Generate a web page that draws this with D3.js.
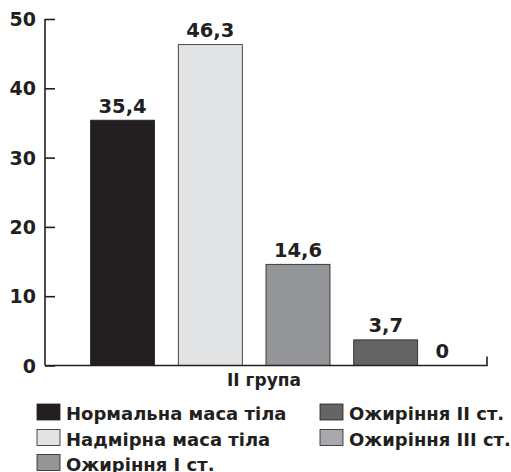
<!DOCTYPE html>
<html>
<head>
<meta charset="utf-8">
<script src="https://cdn.jsdelivr.net/npm/d3@7"></script>
<style>
  body { margin: 0; background: #fff; }
  text { font-family: "DejaVu Sans", sans-serif; font-weight: bold; fill: #231f20; }
</style>
</head>
<body>
<svg id="chart"></svg>
<script>
// data
const categories = ["Нормальна маса тіла", "Надмірна маса тіла", "Ожиріння I ст.", "Ожиріння II ст.", "Ожиріння III ст."];
const values = [35.4, 46.3, 14.6, 3.7, 0];
const valueLabels = ["35,4", "46,3", "14,6", "3,7", "0"];
const colors = ["#231f20", "#e2e3e4", "#939598", "#636466", "#a7a9ac"];
const yTicks = [0, 10, 20, 30, 40, 50];
const groupLabel = "II група";

const width = 511, height = 472;

const svg = d3.select("#chart")
    .attr("width", width)
    .attr("height", height);

const x = d3.scaleBand()
    .domain(categories)
    .range([45, 551])
    .paddingInner(0.27)
    .paddingOuter(0.52);

const y = d3.scaleLinear()
    .domain([0, 50])
    .range([365.5, 19]);

// y axis (ticks point inward)
const yAxis = svg.append("g")
    .attr("transform", "translate(45,0)")
    .call(d3.axisRight(y).tickValues(yTicks).tickSize(10).tickFormat(""));
yAxis.select(".domain").remove();
yAxis.selectAll("line").attr("stroke", "#231f20").attr("stroke-width", 1.6);

svg.append("line")
    .attr("x1", 45).attr("x2", 45)
    .attr("y1", y(50)).attr("y2", y(0))
    .attr("stroke", "#231f20").attr("stroke-width", 1.6);

svg.selectAll(".ylab")
    .data(yTicks)
    .join("text")
    .attr("class", "ylab")
    .attr("x", 36)
    .attr("y", d => y(d) + 7)
    .attr("text-anchor", "end")
    .style("font-size", "19px")
    .text(d => d);

// bars
svg.selectAll(".bar")
    .data(values)
    .join("rect")
    .attr("class", "bar")
    .attr("x", (d, i) => x(categories[i]))
    .attr("width", x.bandwidth())
    .attr("y", d => y(d))
    .attr("height", d => y(0) - y(d))
    .attr("fill", (d, i) => colors[i])
    .attr("stroke", "#231f20")
    .attr("stroke-width", d => d > 0 ? 0.8 : 0);

// value labels
svg.selectAll(".vlab")
    .data(values)
    .join("text")
    .attr("class", "vlab")
    .attr("x", (d, i) => d > 0 ? x(categories[i]) + x.bandwidth() / 2 : x(categories[i]) + 1)
    .attr("y", d => y(d) - 7.5)
    .attr("text-anchor", "middle")
    .style("font-size", "19.5px")
    .text((d, i) => valueLabels[i]);

// x axis
svg.append("path")
    .attr("d", `M45,${y(0)}H487V${y(0) - 9}`)
    .attr("fill", "none")
    .attr("stroke", "#231f20")
    .attr("stroke-width", 1.6);

svg.append("text")
    .attr("x", 264)
    .attr("y", 385.5)
    .attr("text-anchor", "middle")
    .style("font-size", "17px")
    .text(groupLabel);

// legend
const legendPos = [[37, 404], [37, 429.5], [37, 454.5], [320, 404], [320, 429.5]];
const legend = svg.selectAll(".leg")
    .data(categories)
    .join("g")
    .attr("class", "leg")
    .attr("transform", (d, i) => `translate(${legendPos[i][0]},${legendPos[i][1]})`);

legend.append("rect")
    .attr("width", 23)
    .attr("height", 16)
    .attr("fill", (d, i) => colors[i])
    .attr("stroke", "#231f20")
    .attr("stroke-width", 0.8);

legend.append("text")
    .attr("x", 29)
    .attr("y", 16)
    .style("font-size", "18px")
    .text(d => d);
</script>
</body>
</html>
